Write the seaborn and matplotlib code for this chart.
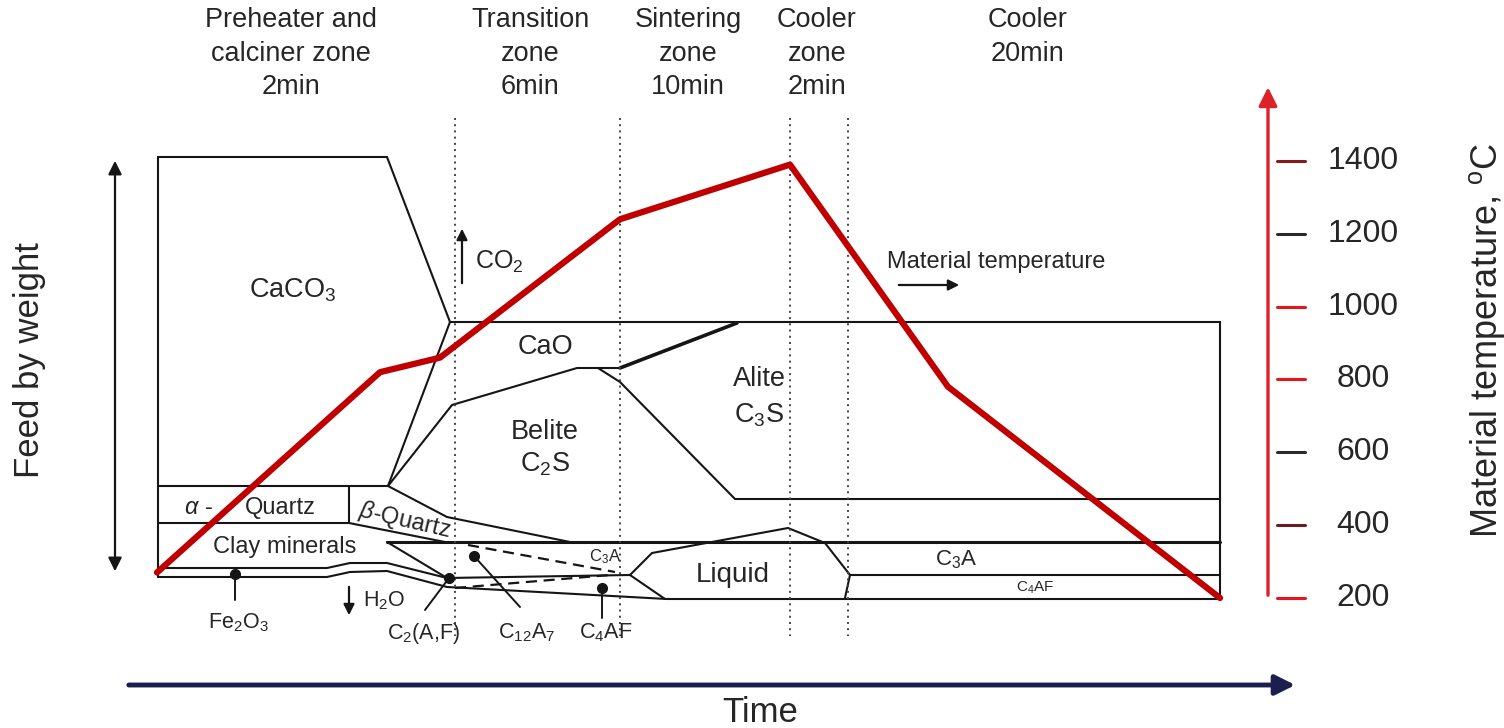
import matplotlib
matplotlib.use('Agg')
import matplotlib.pyplot as plt
import seaborn as sns

sns.set_style('white')
plt.rcParams['font.family'] = ['Liberation Sans', 'DejaVu Sans']
plt.rcParams['mathtext.fontset'] = 'custom'
plt.rcParams['mathtext.rm'] = 'Liberation Sans'
plt.rcParams['mathtext.it'] = 'Liberation Sans:italic'
plt.rcParams['mathtext.default'] = 'regular'

# zone headings (x position of centre, in picture units)
zone_labels = ['Preheater and\ncalciner zone\n2min', 'Transition\nzone\n6min',
               'Sintering\nzone\n10min', 'Cooler\nzone\n2min', 'Cooler\n20min']
zone_x = [291, 530, 688, 817, 1028]
zone_bounds = [455, 620, 790, 848]

# material temperature curve
temp_time = [157, 380, 440, 620, 790, 948, 1220]
temp_c = [270, 820, 860, 1240, 1390, 780, 200]
temp_ticks = [200, 400, 600, 800, 1000, 1200, 1400]
tick_colors = ['#e8141c', '#6b1c1c', '#2a2a2a', '#e8141c', '#e8141c', '#2a2a2a', '#8a1a1a']

# phase boundaries (picture units, y down)
caco3_x = [158, 158, 387, 450]
caco3_y = [577, 157, 157, 322]
cao_top_x = [450, 1220, 1220]
cao_top_y = [322, 322, 598]
calcine_x = [450, 388]
calcine_y = [322, 486]
quartz_top_x = [158, 388]
quartz_top_y = [486, 486]
belite_top_x = [388, 452, 577, 620]
belite_top_y = [486, 405, 368, 368]
alite_front_x = [620, 737]
alite_front_y = [368, 323]
alite_low_x = [598, 620, 735, 1220]
alite_low_y = [368, 382, 499, 499]
belite_low_x = [388, 447, 570]
belite_low_y = [486, 517, 542]
quartz_low_x = [158, 349, 445]
quartz_low_y = [523, 523, 542]
quartz_div_x = [349, 349]
quartz_div_y = [486, 523]
c3a_top_x = [387, 1220]
c3a_top_y = [542, 542]
tri_x = [387, 447, 630]
tri_y = [542, 578, 575]
clay_low_x = [158, 327, 350, 387, 447]
clay_low_y = [568, 568, 563, 563, 578]
fe_low_x = [158, 327, 350, 387, 447, 667, 1220]
fe_low_y = [577, 577, 572, 571, 587, 599, 599]
liquid_x = [630, 652, 788, 825, 850, 845]
liquid_y = [575, 553, 528, 543, 575, 598]
liquid_low_x = [630, 665]
liquid_low_y = [575, 599]
c4af_top_x = [850, 1220]
c4af_top_y = [575, 575]
dash1_x = [468, 615]
dash1_y = [545, 572]
dash2_x = [455, 610]
dash2_y = [588, 575]

# small phase markers: dot position and where its lead line ends
dot_x = [235, 449, 474, 602]
dot_y = [574, 578, 556, 588]
lead_x = [235, 425, 520, 602]
lead_y = [600, 610, 607, 618]

fig = plt.figure(figsize=(15.04, 7.28), dpi=100)
ax = fig.add_axes([0, 0, 1, 1])
ax.set_xlim(0, 1504)
ax.set_ylim(728, 0)
ax.axis('off')

lc = '#151515'
lines = [(caco3_x, caco3_y), (cao_top_x, cao_top_y), (calcine_x, calcine_y),
         (quartz_top_x, quartz_top_y), (belite_top_x, belite_top_y),
         (alite_low_x, alite_low_y), (belite_low_x, belite_low_y),
         (quartz_low_x, quartz_low_y), (quartz_div_x, quartz_div_y),
         (tri_x, tri_y), (clay_low_x, clay_low_y), (fe_low_x, fe_low_y),
         (liquid_x, liquid_y), (liquid_low_x, liquid_low_y), (c4af_top_x, c4af_top_y)]
for lx, ly in lines:
    ax.plot(lx, ly, color=lc, lw=1.5, solid_joinstyle='miter')
ax.plot(alite_front_x, alite_front_y, color=lc, lw=2.6)
ax.plot(c3a_top_x, c3a_top_y, color=lc, lw=2.2)
ax.plot(dash1_x, dash1_y, color=lc, lw=1.6, ls=(0, (5, 3)))
ax.plot(dash2_x, dash2_y, color=lc, lw=1.6, ls=(0, (5, 3)))

for x in zone_bounds:
    ax.plot([x, x], [118, 636], color='#444444', lw=1.4, ls=(0, (1, 2.2)))

for dx, dy, ex, ey in zip(dot_x, dot_y, lead_x, lead_y):
    ax.plot([dx, ex], [dy, ey], color=lc, lw=1.4)
    ax.plot(dx, dy, 'o', color=lc, ms=7)

tc = '#262626'
# zone headings
for lab, x in zip(zone_labels, zone_x):
    ax.text(x, 7, lab, ha='center', va='top', fontsize=19.5, color=tc, linespacing=1.38)

# phase labels
ax.text(293, 290, 'CaCO$_3$', ha='center', va='center', fontsize=19.5, color=tc)
ax.text(475, 262, 'CO$_2$', ha='left', va='center', fontsize=18, color=tc)
ax.text(545, 347, 'CaO', ha='center', va='center', fontsize=19.5, color=tc)
ax.text(545, 432, 'Belite', ha='center', va='center', fontsize=19.5, color=tc)
ax.text(545, 464, 'C$_2$S', ha='center', va='center', fontsize=19.5, color=tc)
ax.text(759, 379, 'Alite', ha='center', va='center', fontsize=19.5, color=tc)
ax.text(759, 415, 'C$_3$S', ha='center', va='center', fontsize=19.5, color=tc)
ax.text(198, 508, r'$\mathit{\alpha}$ -', ha='center', va='center', fontsize=17, color=tc)
ax.text(280, 508, 'Quartz', ha='center', va='center', fontsize=17, color=tc)
ax.text(405, 520, r'$\mathit{\beta}$-Quartz', ha='center', va='center', fontsize=17,
        color=tc, rotation=-13, rotation_mode='anchor')
ax.text(285, 547, 'Clay minerals', ha='center', va='center', fontsize=17, color=tc)
ax.text(733, 575, 'Liquid', ha='center', va='center', fontsize=20, color=tc)
ax.text(956, 560, 'C$_3$A', ha='center', va='center', fontsize=16, color=tc)
ax.text(1035, 588, 'C$_4$AF', ha='center', va='center', fontsize=11, color=tc)
ax.text(605, 557, 'C$_3$A', ha='center', va='center', fontsize=12, color=tc)
ax.text(238, 623, 'Fe$_2$O$_3$', ha='center', va='center', fontsize=15.5, color=tc)
ax.text(363, 601, 'H$_2$O', ha='left', va='center', fontsize=15.5, color=tc)
ax.text(424, 633, 'C$_2$(A,F)', ha='center', va='center', fontsize=15.5, color=tc)
ax.text(527, 633, 'C$_{12}$A$_7$', ha='center', va='center', fontsize=15.5, color=tc)
ax.text(606, 633, 'C$_4$AF', ha='center', va='center', fontsize=15.5, color=tc)
ax.text(996, 262, 'Material temperature', ha='center', va='center', fontsize=17, color=tc)

# small arrows
arr = dict(arrowstyle='-|>', color=lc, lw=1.6, mutation_scale=16)
ax.annotate('', xy=(462, 226), xytext=(462, 286), arrowprops=arr)
ax.annotate('', xy=(349, 618), xytext=(349, 584), arrowprops=arr)
ax.annotate('', xy=(962, 285), xytext=(896, 285), arrowprops=arr)
ax.annotate('', xy=(115, 158), xytext=(115, 574),
            arrowprops=dict(arrowstyle='<|-|>', color=lc, lw=1.6, mutation_scale=20))
ax.annotate('', xy=(1298, 685), xytext=(126, 685),
            arrowprops=dict(arrowstyle='-|>', color='#1b1f4f', lw=3.5, mutation_scale=30))

ax.text(30, 360, 'Feed by weight', rotation=90, ha='center', va='center', fontsize=25, color=tc)
ax.text(760, 712, 'Time', ha='center', va='center', fontsize=25, color=tc)
ax.text(1487, 340, 'Material temperature, $^{\\rm o}$C', rotation=90, ha='center',
        va='center', fontsize=26, color=tc)

# temperature scale sharing the picture's x
ax2 = ax.twinx()
ax2.set_ylim(-157, 1842)
ax2.axis('off')
ax2.annotate('', xy=(1268, 1610), xytext=(1268, 200),
             arrowprops=dict(arrowstyle='-|>', color='#dc2228', lw=2.4, mutation_scale=28))
for t, c in zip(temp_ticks, tick_colors):
    ax2.plot([1277, 1305], [t, t], color=c, lw=2.2)
    ax2.text(1363, t, str(t), ha='center', va='center', fontsize=23, color=tc)

sns.lineplot(x=temp_time, y=temp_c, ax=ax2, color='#c00000', lw=4.5, sort=False,
             estimator=None)

fig.savefig('out.png', dpi=100)
